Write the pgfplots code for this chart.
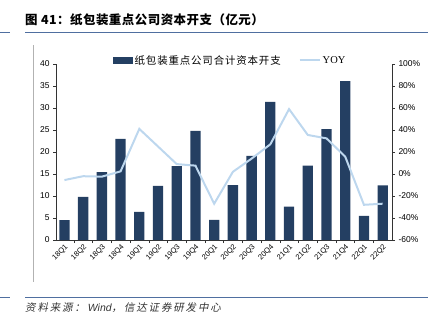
\documentclass[border=0pt]{standalone}
\usepackage{pgfplots}
\pgfplotsset{compat=1.18}
\usepackage{fontspec}
\setmainfont{Liberation Sans}
\newfontfamily\cjk{Noto Sans CJK SC}
\newfontfamily\cjktitle[LetterSpace=4]{Noto Sans CJK SC}
\newfontfamily\cjkleg[LetterSpace=8]{Noto Sans CJK SC}
\newfontfamily\cjkit[FakeSlant=0.2,LetterSpace=18]{Noto Sans CJK SC}
\definecolor{barc}{HTML}{243F62}
\definecolor{linec}{HTML}{BDD7EE}
\definecolor{rulec}{HTML}{4F6FA0}
\pgfplotstableread{
x v y
0 4.5 -5.5
1 9.8 -2
2 15.4 -2.4
3 23.0 2.4
4 6.4 41
5 12.3 25
6 16.8 9
7 24.8 7.6
8 4.6 -27
9 12.5 2
10 19.1 14
11 31.4 27
12 7.6 59
13 16.9 35.5
14 25.2 32.4
15 36.1 15.8
16 5.5 -28
17 12.4 -27
}\datatab
\begin{document}
\begin{tikzpicture}[x=1bp,y=1bp]
\useasboundingbox (0,0) rectangle (448,321);
\node[anchor=west,inner sep=0pt,font=\cjktitle\bfseries\fontsize{12.5}{14}\selectfont] at (25,301) {图 41：纸包装重点公司资本开支（亿元）};
\draw[rulec,line width=0.8bp] (25,289) -- (428,289);
\draw[rulec,line width=0.8bp] (0,289) -- (10,289);
\draw[rulec,line width=0.8bp] (25,24) -- (428,24);
\draw[rulec,line width=0.8bp] (0,24) -- (10,24);
\draw[gray!60,line width=0.6bp] (33,276) -- (33,39);
\node[anchor=west,inner sep=0pt,font=\fontsize{10.5}{12}\selectfont,text=black!80] at (25,13) {\cjkit 资料来源：\fontspec{Liberation Sans}\itshape\ Wind\cjkit ，信达证券研发中心};
\begin{axis}[at={(56bp,81bp)},anchor=south west,scale only axis,
  width=336bp,height=176bp,
  xmin=-0.45,xmax=17.5,ymin=0,ymax=40,
  axis x line*=bottom, axis y line*=left,
  axis line style={black!80},
  xtick=data,
  xticklabels={18Q1,18Q2,18Q3,18Q4,19Q1,19Q2,19Q3,19Q4,20Q1,20Q2,20Q3,20Q4,21Q1,21Q2,21Q3,21Q4,22Q1,22Q2},
  major x tick style={draw=none},
  minor x tick num=1,
  minor tick length=3bp,
  minor x tick style={black!80},
  x tick label style={rotate=45,anchor=north east,font=\fontsize{7.5}{9}\selectfont,inner sep=0.5pt},
  ytick={0,5,...,40},
  y tick label style={font=\fontsize{8.5}{10}\selectfont},
  /pgf/number format/assume math mode=true,
  tick align=outside,
  major tick length=3bp,
  y tick style={black!80},
  legend columns=2,
  legend style={at={(0.518,1.02)},anchor=center,draw=none,fill=none,
    font=\cjkleg\fontsize{10.5}{12}\selectfont,/tikz/every even column/.append style={column sep=16bp}},
]
\addplot[ybar,bar width=10.3bp,fill=barc,draw=none,
  area legend,
  legend image code/.code={\fill[barc] (0bp,-3.5bp) rectangle (20bp,3.5bp);}]
  table[x=x,y=v]{\datatab};
\addlegendentry{纸包装重点公司合计资本开支}
\addlegendimage{linec,line width=2bp,legend image code/.code={\draw[linec,line width=2bp] (0bp,0bp) -- (20bp,0bp);}}
\addlegendentry{\fontspec{Liberation Serif}YOY}
\end{axis}
\begin{axis}[at={(56bp,81bp)},anchor=south west,scale only axis,
  width=336bp,height=176bp,
  xmin=-0.45,xmax=17.5,ymin=-60,ymax=100,
  axis x line=none, axis y line*=right,
  axis line style={black!80},
  ytick={-60,-40,...,100},
  yticklabel={\pgfmathprintnumber{\tick}\%},
  y tick label style={font=\fontsize{8.5}{10}\selectfont},
  /pgf/number format/assume math mode=true,
  tick align=outside,
  major tick length=3bp,
  y tick style={black!80},
]
\addplot[linec,line width=2bp,mark=none] table[x=x,y=y]{\datatab};
\end{axis}
\end{tikzpicture}
\end{document}
